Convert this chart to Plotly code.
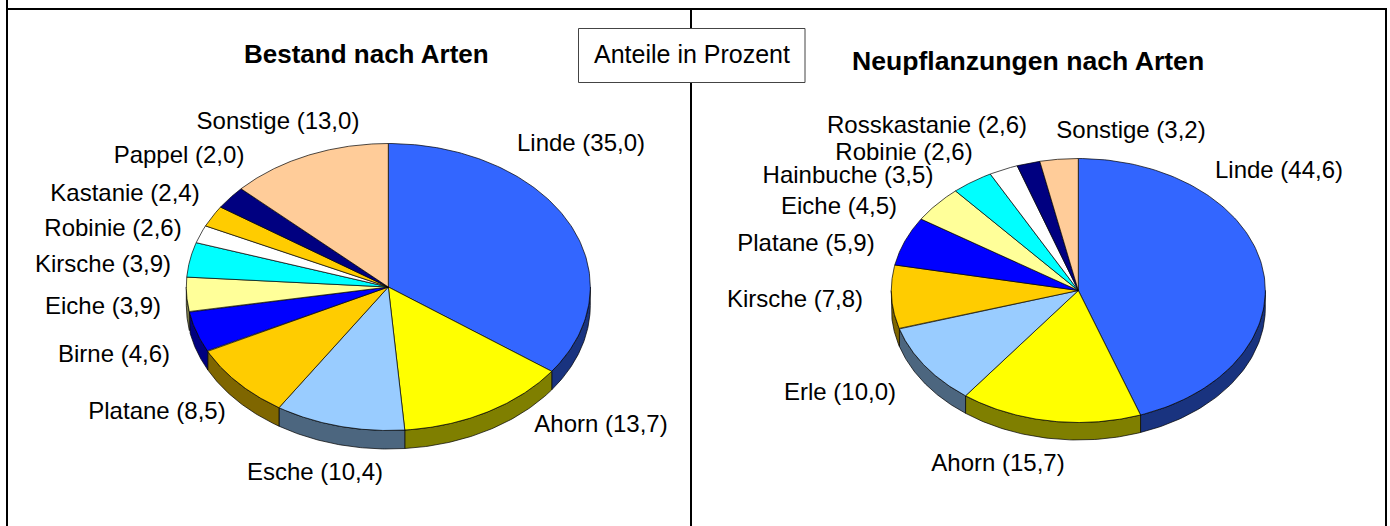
import numpy as np
import plotly.graph_objects as go

# Data: slice sizes as drawn, and the figures printed in the labels
bestand_names = ["Linde", "Ahorn", "Esche", "Platane", "Birne", "Eiche", "Kirsche", "Robinie", "Kastanie", "Pappel", "Sonstige"]
bestand_printed = ["35,0", "13,7", "10,4", "8,5", "4,6", "3,9", "3,9", "2,6", "2,4", "2,0", "13,0"]
bestand_values = [35.0, 13.7, 10.4, 8.5, 4.6, 3.9, 3.9, 2.0, 2.4, 2.6, 13.0]
neu_names = ["Linde", "Ahorn", "Erle", "Kirsche", "Platane", "Eiche", "Hainbuche", "Robinie", "Rosskastanie", "Sonstige"]
neu_printed = ["44,6", "15,7", "10,0", "7,8", "5,9", "4,5", "3,5", "2,6", "2,6", "3,2"]
neu_values = [44.6, 15.7, 10.0, 7.8, 6.0, 4.5, 3.6, 2.5, 2.0, 3.3]

# Styles
bestand_colors = ["#3366FF", "#FFFF00", "#99CCFF", "#FFCC00", "#0000FF", "#FFFF99", "#00FFFF", "#FFFFFF", "#FFCC00", "#000080", "#FFCC99"]
neu_colors = ["#3366FF", "#FFFF00", "#99CCFF", "#FFCC00", "#0000FF", "#FFFF99", "#00FFFF", "#FFFFFF", "#000080", "#FFCC99"]

# Label centre positions (pixels)
bestand_label_x = [581, 601, 315, 157, 114, 103, 103, 113, 125, 179, 278]
bestand_label_y = [145, 426, 474, 413, 356, 308, 266, 230, 195, 157, 123]
neu_label_x = [1279, 998, 840, 795, 806, 839, 848, 904, 927, 1131]
neu_label_y = [172, 465, 394, 301, 245, 208, 177, 154, 127, 132]

FONT = "Liberation Sans, Arial, sans-serif"
LABEL_SIZE = 24
BOX_SIZE = 25
TITLE_SIZE_LEFT = 26
TITLE_SIZE_RIGHT = 26.6

fig = go.Figure()


def darken(hex_color):
    r, g, b = (int(hex_color[i:i + 2], 16) for i in (1, 3, 5))
    return f"rgb({r // 2},{g // 2},{b // 2})"


def add_pie(values, names, printed, colors, cx, cy, rx, ry, depth, lab_x, lab_y):
    vals = np.array(values, dtype=float)
    edges = np.concatenate([[0], np.cumsum(vals)]) / vals.sum() * 2 * np.pi
    line = dict(color="black", width=0.7)
    # side wall: only the front half of the disc (pi/2 .. 3pi/2) shows
    for a, b, c in zip(edges[:-1], edges[1:], colors):
        lo, hi = max(a, np.pi / 2), min(b, 3 * np.pi / 2)
        if hi <= lo:
            continue
        t = np.linspace(lo, hi, 60)
        x = cx + rx * np.sin(t)
        y = cy - ry * np.cos(t)
        fig.add_trace(go.Scatter(
            x=np.concatenate([x, x[::-1], x[:1]]),
            y=np.concatenate([y, y[::-1] + depth, y[:1]]),
            mode="lines", fill="toself", fillcolor=darken(c), line=line,
            hoverinfo="skip", showlegend=False))
    # top face
    for a, b, c in zip(edges[:-1], edges[1:], colors):
        t = np.linspace(a, b, 120)
        x = cx + rx * np.sin(t)
        y = cy - ry * np.cos(t)
        fig.add_trace(go.Scatter(
            x=np.concatenate([[cx], x, [cx]]),
            y=np.concatenate([[cy], y, [cy]]),
            mode="lines", fill="toself", fillcolor=c, line=line,
            hoverinfo="skip", showlegend=False))
    labels = [f"{n} ({p})" for n, p in zip(names, printed)]
    fig.add_trace(go.Scatter(
        x=lab_x, y=lab_y, text=labels, mode="text", textposition="middle center",
        textfont=dict(family=FONT, size=LABEL_SIZE, color="black"),
        hoverinfo="skip", showlegend=False))


add_pie(bestand_values, bestand_names, bestand_printed, bestand_colors, 388.3, 287, 202, 143.5, 18.5,
        bestand_label_x, bestand_label_y)
add_pie(neu_values, neu_names, neu_printed, neu_colors, 1078.3, 290.5, 187, 132, 17.5,
        neu_label_x, neu_label_y)

frame = dict(color="black", width=2)
shapes = [
    dict(type="line", xref="x", yref="y", x0=7, x1=7, y0=0, y1=526, line=frame),
    dict(type="line", xref="x", yref="y", x0=7, x1=1387, y0=9, y1=9, line=frame),
    dict(type="line", xref="x", yref="y", x0=691, x1=691, y0=9, y1=526, line=frame),
    dict(type="line", xref="x", yref="y", x0=1386, x1=1386, y0=8, y1=526, line=frame),
    dict(type="rect", xref="x", yref="y", x0=578.5, x1=805, y0=28.5, y1=82.5,
         line=dict(color="#444444", width=1), fillcolor="white", layer="above"),
]

annotations = [
    dict(x=366, y=54, text="<b>Bestand nach Arten</b>", showarrow=False, xref="x", yref="y",
         font=dict(family=FONT, size=TITLE_SIZE_LEFT, color="black")),
    dict(x=1027.5, y=61, text="<b>Neupflanzungen nach Arten</b>", showarrow=False, xref="x", yref="y",
         font=dict(family=FONT, size=TITLE_SIZE_RIGHT, color="black")),
    dict(x=691.5, y=54, text="Anteile in Prozent", showarrow=False, xref="x", yref="y",
         font=dict(family=FONT, size=BOX_SIZE, color="black")),
]

fig.update_layout(
    width=1390, height=526, margin=dict(l=0, r=0, t=0, b=0),
    paper_bgcolor="white", plot_bgcolor="white", showlegend=False,
    xaxis=dict(range=[0, 1390], visible=False, fixedrange=True),
    yaxis=dict(range=[526, 0], visible=False, fixedrange=True),
    shapes=shapes, annotations=annotations,
)

fig.write_html("out.html", config={"displayModeBar": False},
               post_script="document.body.style.margin='0';document.body.style.overflow='hidden';")
